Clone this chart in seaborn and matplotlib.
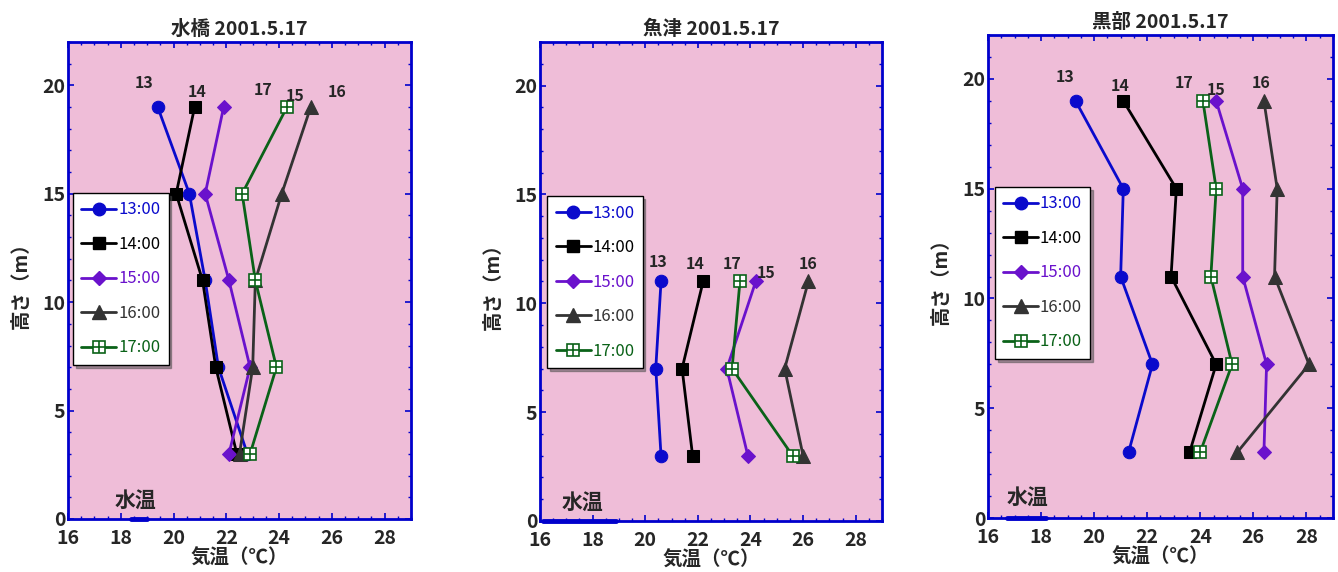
import matplotlib
matplotlib.use("Agg")
import numpy as np
import pandas as pd
import matplotlib.pyplot as plt
import seaborn as sns
from matplotlib.lines import Line2D
from matplotlib.legend_handler import HandlerTuple
from matplotlib.ticker import MultipleLocator

sns.set_style("ticks")
plt.rcParams['font.family'] = ['Noto Sans CJK JP', 'DejaVu Sans']
plt.rcParams['axes.unicode_minus'] = False

# 時刻と色
hours = ["13:00", "14:00", "15:00", "16:00", "17:00"]
hour_tags = ["13", "14", "15", "16", "17"]
colors = ["#0A0ACC", "#000000", "#6A12CC", "#333333", "#0A6218"]

# 各地点 高さ(m)
heights_mizuhashi = [19, 15, 11, 7, 3]
heights_uozu = [11, 7, 3]
heights_kurobe = [19, 15, 11, 7, 3]

# 気温(℃) 13:00〜17:00
temps_mizuhashi = [
    [19.4, 20.6, 21.2, 21.7, 22.8],
    [20.8, 20.1, 21.1, 21.6, 22.4],
    [21.9, 21.2, 22.1, 22.9, 22.1],
    [25.2, 24.1, 23.1, 23.0, 22.5],
    [24.3, 22.6, 23.1, 23.9, 22.9],
]
temps_uozu = [
    [20.6, 20.4, 20.6],
    [22.2, 21.4, 21.8],
    [24.2, 23.1, 23.9],
    [26.2, 25.3, 26.0],
    [23.6, 23.3, 25.6],
]
temps_kurobe = [
    [19.3, 21.1, 21.0, 22.2, 21.3],
    [21.1, 23.1, 22.9, 24.6, 23.6],
    [24.6, 25.6, 25.6, 26.5, 26.4],
    [26.4, 26.9, 26.8, 28.1, 25.4],
    [24.1, 24.6, 24.4, 25.2, 24.0],
]

# 水温の範囲(℃)
water_mizuhashi = [18.4, 19.0]
water_uozu = [16.1, 18.9]
water_kurobe = [16.7, 18.2]

titles = ["水橋 2001.5.17", "魚津 2001.5.17", "黒部 2001.5.17"]

# ラベル(13,14,...)の位置
tag_pos_mizuhashi = [(18.9, 20.1), (20.9, 19.7), (24.6, 19.5), (26.2, 19.7), (23.4, 19.8)]
tag_pos_uozu = [(20.5, 11.9), (21.9, 11.8), (24.6, 11.4), (26.2, 11.8), (23.3, 11.8)]
tag_pos_kurobe = [(18.9, 20.1), (21.0, 19.7), (24.6, 19.5), (26.3, 19.8), (23.4, 19.8)]
water_text_pos = [(18.55, 0.85), (17.6, 0.85), (17.5, 0.95)]

sites = [
    (heights_mizuhashi, temps_mizuhashi, water_mizuhashi, tag_pos_mizuhashi),
    (heights_uozu, temps_uozu, water_uozu, tag_pos_uozu),
    (heights_kurobe, temps_kurobe, water_kurobe, tag_pos_kurobe),
]

# 軸の位置 (left, bottom, width, height)
axes_rects = [
    [0.0508, 0.0927, 0.2564, 0.834],
    [0.4036, 0.0892, 0.2556, 0.8374],
    [0.7384, 0.0944, 0.2578, 0.8444],
]
legend_anchor = [(0.015, 0.683), (0.021, 0.678), (0.02, 0.685)]

bg = "#EFBDD8"
spine_c = "#0000CC"
markers = ["o", "s", "D", "^", "s"]
msizes = [9, 9, 7.5, 9.5, 9]

fig = plt.figure(figsize=(13.38, 5.72), dpi=100)

for k, (heights, temps, water, tag_pos) in enumerate(sites):
    ax = fig.add_axes(axes_rects[k])
    ax.set_facecolor(bg)

    for i, h in enumerate(hours):
        df = pd.DataFrame({"temp": temps[i], "height": heights})
        if i == 4:
            sns.lineplot(data=df, x="temp", y="height", sort=False, estimator=None,
                         color=colors[i], linewidth=2, marker="s", markersize=msizes[i],
                         markerfacecolor="white", markeredgecolor=colors[i],
                         markeredgewidth=1.2, ax=ax, zorder=3)
            ax.plot(df["temp"], df["height"], linestyle="none", marker="+",
                    markersize=msizes[i], markeredgewidth=1.2, color=colors[i], zorder=4)
        else:
            sns.lineplot(data=df, x="temp", y="height", sort=False, estimator=None,
                         color=colors[i], linewidth=2, marker=markers[i],
                         markersize=msizes[i], markeredgecolor=colors[i], ax=ax, zorder=3)

    # 水温
    sns.lineplot(x=water, y=[0, 0], color=spine_c, linewidth=3.5, ax=ax, zorder=5, clip_on=False)
    wx, wy = water_text_pos[k]
    ax.text(wx, wy, "水温", fontsize=15, fontweight="bold", ha="center", va="center")

    for tag, (tx, ty) in zip(hour_tags, tag_pos):
        ax.text(tx, ty, tag, fontsize=11.5, fontweight="bold", ha="center", va="center")

    ax.set_xlim(16, 29)
    ax.set_ylim(0, 22)
    ax.xaxis.set_major_locator(MultipleLocator(2))
    ax.xaxis.set_minor_locator(MultipleLocator(0.5))
    ax.yaxis.set_major_locator(MultipleLocator(5))
    ax.yaxis.set_minor_locator(MultipleLocator(1))
    ax.set_xticks(np.arange(16, 29, 2))
    ax.tick_params(which="both", direction="in", top=True, right=True, color=spine_c,
                   labelsize=14)
    ax.tick_params(axis="x", pad=7.5)
    ax.tick_params(axis="y", pad=2)
    ax.tick_params(which="major", length=4.5, width=1.2)
    ax.tick_params(which="minor", length=2.5, width=1)
    for lab in ax.get_xticklabels() + ax.get_yticklabels():
        lab.set_fontweight("bold")
    for s in ax.spines.values():
        s.set_color(spine_c)
        s.set_linewidth(2)

    ax.set_title(titles[k], fontsize=14, fontweight="bold", pad=5)
    ax.set_xlabel("気温（℃）", fontsize=14, fontweight="bold", labelpad=0)
    ax.set_ylabel("高さ（m）", fontsize=14, fontweight="bold", labelpad=8)

    handles = []
    for i in range(5):
        if i == 4:
            h1 = Line2D([], [], color=colors[i], linewidth=2, marker="s", markersize=msizes[i],
                        markerfacecolor="white", markeredgecolor=colors[i], markeredgewidth=1.2)
            h2 = Line2D([], [], linestyle="none", marker="+", markersize=msizes[i],
                        markeredgewidth=1.2, color=colors[i])
            handles.append((h1, h2))
        else:
            handles.append(Line2D([], [], color=colors[i], linewidth=2, marker=markers[i],
                                  markersize=msizes[i]))
    leg = ax.legend(handles, hours, loc="upper left", bbox_to_anchor=legend_anchor[k],
                    handler_map={tuple: HandlerTuple(ndivide=1)},
                    fontsize=12, labelcolor=colors, handlelength=2.1, handletextpad=0.1,
                    labelspacing=1.05, borderpad=0.5, borderaxespad=0,
                    fancybox=False, shadow=True, framealpha=1, edgecolor="black")
    leg.get_frame().set_linewidth(1)

fig.savefig("out.png", dpi=100)
